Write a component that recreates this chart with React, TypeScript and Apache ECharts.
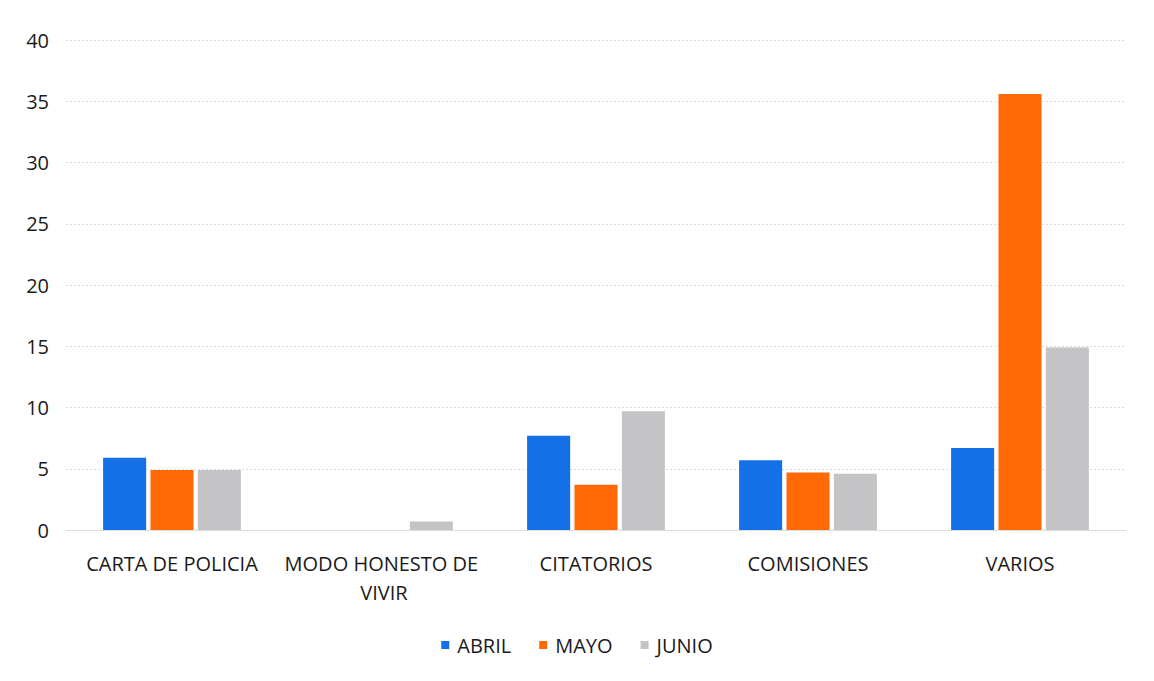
import React, { useEffect, useRef } from "react";
import * as echarts from "echarts";

const categories = ["CARTA DE POLICIA", "MODO HONESTO DE VIVIR", "CITATORIOS", "COMISIONES", "VARIOS"];
const abril = [5.9, 0, 7.7, 5.7, 6.7];
const mayo = [4.9, 0, 3.7, 4.7, 35.6];
const junio = [4.9, 0.7, 9.7, 4.6, 14.9];
const seriesNames = ["ABRIL", "MAYO", "JUNIO"];
const colors = ["#1470e6", "#ff6a06", "#c4c4c6"];

export default function App() {
  const ref = useRef<HTMLDivElement>(null);
  useEffect(() => {
    const chart = echarts.init(ref.current!, null, { renderer: "svg" });
    const font = "'Open Sans', 'Noto Sans', sans-serif";
    const data = [abril, mayo, junio];
    chart.setOption({
      animation: false,
      backgroundColor: "#ffffff",
      textStyle: { fontFamily: font },
      grid: { left: 66, right: 28, top: 40, bottom: 151, containLabel: false },
      legend: {
        top: 630,
        left: "center",
        itemWidth: 8,
        itemHeight: 8,
        itemGap: 28,
        icon: "rect",
        textStyle: { fontSize: 20, color: "#1a1a1a", fontFamily: font, padding: [0, 0, 0, 3] },
        data: seriesNames,
      },
      xAxis: {
        type: "category",
        data: categories,
        axisTick: { show: false },
        axisLine: { show: true, lineStyle: { color: "#dcdcdc" } },
        axisLabel: {
          interval: 0,
          fontSize: 20,
          color: "#1a1a1a",
          margin: 19,
          lineHeight: 29,
          width: 210,
          overflow: "break",
          fontFamily: font,
        },
      },
      yAxis: {
        type: "value",
        min: 0,
        max: 40,
        interval: 5,
        axisLine: { show: false },
        axisTick: { show: false },
        axisLabel: { fontSize: 20, color: "#1a1a1a", margin: 17, fontFamily: font },
        splitLine: { lineStyle: { color: "#dcdcdc", type: [2, 2] } },
      },
      series: seriesNames.map((name, i) => ({
        name,
        type: "bar",
        data: data[i],
        itemStyle: { color: colors[i] },
        barGap: "10%",
        barCategoryGap: "35%",
      })),
    });
    return () => chart.dispose();
  }, []);
  return <div ref={ref} style={{ width: 1154, height: 681, margin: -8 }} />;
}
